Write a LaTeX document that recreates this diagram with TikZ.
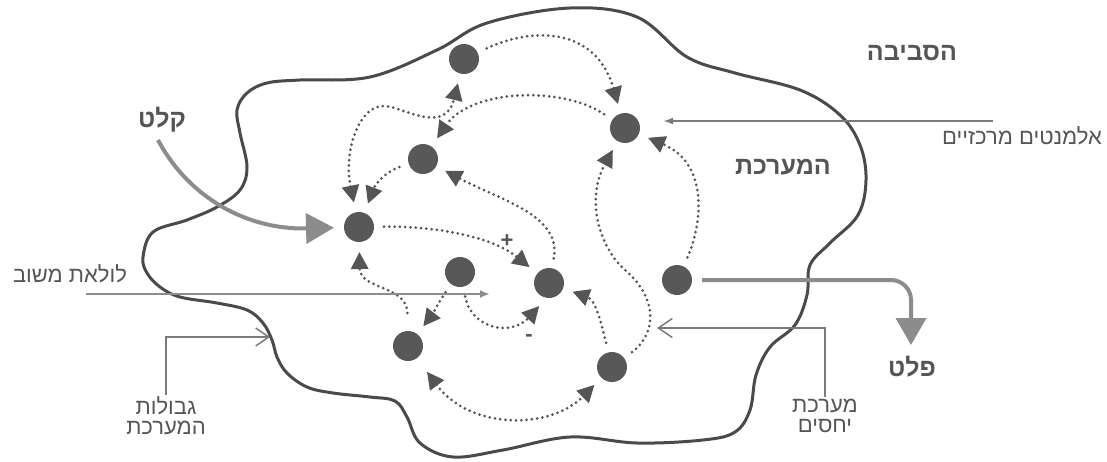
\documentclass[tikz,border=0pt]{standalone}
\usepackage{fontspec}
\setmainfont{Liberation Sans}
\newfontfamily\heb[Script=Hebrew]{Liberation Sans}
\TeXXeTstate=1
\usetikzlibrary{arrows.meta,calc}
\definecolor{dotc}{HTML}{555555}
\definecolor{nodec}{HTML}{585858}
\definecolor{bnd}{HTML}{4A4A4A}
\definecolor{flow}{HTML}{8C8C8C}
\definecolor{ptr}{HTML}{7A7A7A}
\definecolor{txt}{HTML}{555555}
\begin{document}
\begin{tikzpicture}[x=1pt,y=-1pt,
  elem/.style={circle,fill=nodec,minimum size=30pt,inner sep=0pt,outer sep=10pt},
  rel/.style={draw=dotc,line width=3pt,dash pattern=on 0pt off 5.3pt,line cap=round},
  tipend/.style={-{Triangle[length=17pt,width=17pt]}},
  tipboth/.style={{Triangle[length=17pt,width=17pt]}-{Triangle[length=17pt,width=17pt]}},
  boundary/.style={draw=bnd,line width=3pt},
  flowline/.style={draw=flow,line width=4pt},
  ptrline/.style={draw=ptr,line width=2.2pt},
  biglabel/.style={text=txt,font=\heb\bfseries\fontsize{25}{27}\selectfont,inner sep=0pt},
  smalllabel/.style={text=txt,font=\heb\fontsize{22}{20}\selectfont,inner sep=0pt,align=center},
]
\useasboundingbox (0,0) rectangle (1107,461);

% system boundary
\draw[boundary] plot[smooth cycle, tension=0.6] coordinates {
 (570,8) (637,17) (687,57) (735,73) (800,90) (840,115) (860,145) (866,180)
 (858,215) (830,243) (810,265) (807,295) (795,325) (770,347) (756,375)
 (750,410) (735,432) (703,440) (637,443) (570,437) (503,450) (453,457)
 (420,443) (407,417) (395,401) (370,397) (333,393) (307,387) (287,373)
 (277,357) (272,340) (263,323) (247,310) (217,303) (180,297) (160,287)
 (147,273) (143,257) (153,232) (187,220) (217,207) (240,190) (247,167)
 (240,133) (237,110) (247,93) (267,83) (300,80) (370,77) (437,50) (487,23)};

% elements
\node[elem] (A) at (464,59) {};
\node[elem] (B) at (625,128) {};
\node[elem] (C) at (423,159) {};
\node[elem] (D) at (359,227) {};
\node[elem] (E) at (460,272) {};
\node[elem] (F) at (549,283) {};
\node[elem] (G) at (677,280) {};
\node[elem] (H) at (408,346) {};
\node[elem] (I) at (612,367) {};

% relations
\draw[rel,tipend] (A) .. controls (530,28) and (595,25) .. (B);
\draw[rel,tipend] (B) .. controls (560,85) and (470,90) .. (C);
\draw[rel,tipend] (C) .. controls (385,172) and (375,185) .. (D);
\coordinate (m4) at (385,106);
\draw[rel,tipboth] (D) .. controls (343,150) and (360,104) .. (m4)
  .. controls (405,108) and (445,135) .. (A);
\draw[rel,tipend] (D) .. controls (430,226) and (490,235) .. (F);
\draw[rel,tipend] (F) .. controls (562,215) and (500,200) .. (C);
\draw[rel,tipend,shorten <=8pt] (H) .. controls (407,285) and (360,290) .. (D);
\draw[rel,tipend] (E) .. controls (440,300) and (432,315) .. (H);
\draw[rel,tipend] (E) .. controls (472,330) and (512,336) .. (F.247);
\draw[rel,tipend] (I) .. controls (600,318) and (595,300) .. (F);
\draw[rel,tipboth,shorten <=7pt] (H) .. controls (470,430) and (550,430) .. (I);
\coordinate (m13) at (625,270);
\draw[rel,tipend] (I) .. controls (655,335) and (660,300) .. (m13)
  .. controls (600,248) and (585,200) .. (B);
\draw[rel,tipend] (G) .. controls (700,230) and (712,165) .. (B);

% signs
\node[text=txt,font=\bfseries\fontsize{22}{22}\selectfont,inner sep=0pt] (plus) at (507,241) {+};
\node[text=txt,font=\bfseries\fontsize{22}{22}\selectfont,inner sep=0pt] (minus) at (529,338) {-};

% labels
\node[biglabel] (tsev) at (912,53) {\beginR הסביבה\endR};
\node[biglabel] (tsys) at (783,167) {\beginR המערכת\endR};
\node[biglabel] (tin) at (162,120) {\beginR קלט\endR};
\node[biglabel] (tout) at (912,367) {\beginR פלט\endR};
\node[smalllabel] (tel) at (1022,136) {\beginR אלמנטים מרכזיים\endR};
\node[smalllabel] (tfb) at (70,274) {\beginR לולאת משוב\endR};
\node[smalllabel,inner sep=2pt] (tgb) at (166,416) {\beginR גבולות\endR\\\beginR המערכת\endR};
\node[smalllabel,inner sep=2pt] (trel) at (825,416) {\beginR מערכת\endR\\\beginR יחסים\endR};

% input / output
\coordinate (kin) at (158,140);
\draw[flowline,-{Triangle[length=28pt,width=30pt]}] (kin) .. controls (190,200) and (250,230) .. (D);
\coordinate (kout) at (911,345);
\draw[flowline,rounded corners=20pt,-{Triangle[length=27pt,width=30pt]}] (G) -| (kout);

% pointers
\coordinate (kel) at (993,121);
\draw[ptrline,-{Latex[length=10pt,width=7pt]}] (kel) -- ($(B.east |- kel)+(13,0)$);
\coordinate (fbs) at (86,294);
\coordinate (fbe) at (490,294);
\draw[ptrline,draw=flow,line width=2.5pt,-{Latex[length=10pt,width=8pt]}] (fbs) -- (fbe);
\coordinate (gbe) at (270,337);
\draw[ptrline,-{Straight Barb[length=13pt,width=18pt,line width=1.5pt]}] (tgb.north) |- (gbe);
\coordinate (relend) at (657,328);
\draw[ptrline,-{Straight Barb[length=14pt,width=19pt,line width=1.5pt]}] (trel.north) |- (relend);
\end{tikzpicture}
\end{document}
